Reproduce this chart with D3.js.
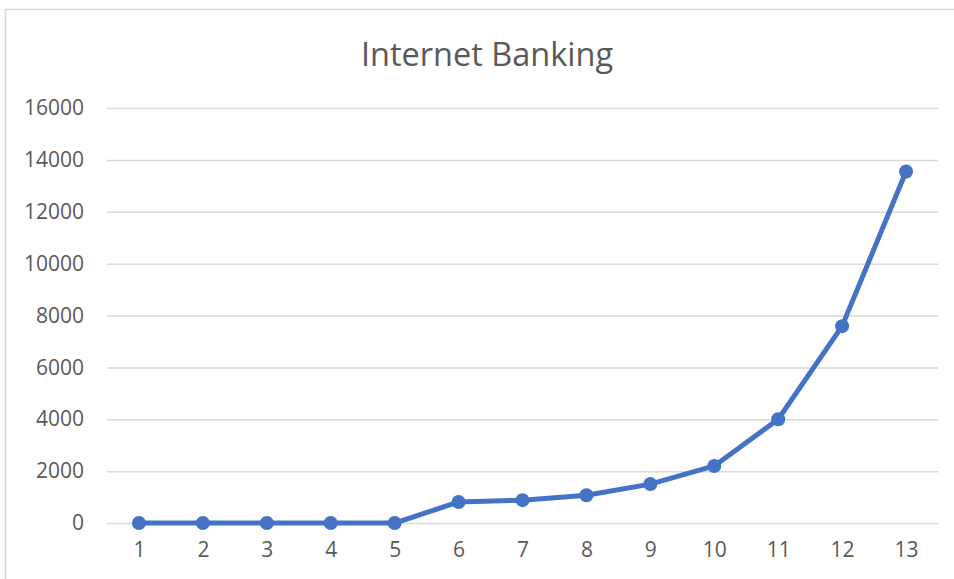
<!DOCTYPE html>
<html>
<head>
<meta charset="utf-8">
<script src="https://cdn.jsdelivr.net/npm/d3@7"></script>
<style>
  html, body { margin: 0; padding: 0; background: #fff; }
  svg { display: block; }
</style>
</head>
<body>
<svg id="chart" width="954" height="579"></svg>
<script>
// Series data
const periods = [1, 2, 3, 4, 5, 6, 7, 8, 9, 10, 11, 12, 13];
const users = [0, 0, 0, 0, 0, 810, 880, 1070, 1500, 2200, 4000, 7590, 13550];
const yTicks = [0, 2000, 4000, 6000, 8000, 10000, 12000, 14000, 16000];
const chartTitle = "Internet Banking";

const svg = d3.select("#chart");
const W = 954, H = 579;
const plot = { left: 107, right: 938, top: 108, bottom: 523 };
const font = "'Open Sans', sans-serif";
const textColor = "#595959";
const gridColor = "#d9d9d9";
const lineColor = "#4472C4";

// Chart area frame (left and top edges visible)
svg.append("rect")
  .attr("x", 5.5).attr("y", 9.5)
  .attr("width", W + 20).attr("height", H + 20)
  .attr("fill", "#fff")
  .attr("stroke", gridColor).attr("stroke-width", 1.5);

const x = d3.scalePoint()
  .domain(periods)
  .range([plot.left, plot.right])
  .padding(0.5);

const y = d3.scaleLinear()
  .domain([0, 16000])
  .range([plot.bottom, plot.top]);

// Title
svg.append("text")
  .attr("x", 487).attr("y", 66)
  .attr("text-anchor", "middle")
  .attr("font-family", font)
  .attr("font-size", 32.5)
  .attr("fill", textColor)
  .text(chartTitle);

// Horizontal gridlines + y labels
const yAxis = d3.axisLeft(y)
  .tickValues(yTicks)
  .tickSize(-(plot.right - plot.left))
  .tickPadding(23)
  .tickFormat(d3.format("d"));

const gy = svg.append("g")
  .attr("transform", `translate(${plot.left},0)`)
  .call(yAxis);
gy.select(".domain").remove();
gy.selectAll(".tick line")
  .attr("stroke", gridColor).attr("stroke-width", 1.5);
gy.selectAll(".tick text")
  .attr("font-family", font)
  .attr("font-size", 21)
  .attr("fill", textColor);

// Category labels along the bottom
const xAxis = d3.axisBottom(x).tickSize(0).tickPadding(19);
const gx = svg.append("g")
  .attr("transform", `translate(0,${plot.bottom})`)
  .call(xAxis);
gx.select(".domain").remove();
gx.selectAll(".tick text")
  .attr("font-family", font)
  .attr("font-size", 21)
  .attr("fill", textColor);

// Series line
const line = d3.line()
  .x((d, i) => x(periods[i]))
  .y(d => y(d));

svg.append("path")
  .datum(users)
  .attr("d", line)
  .attr("fill", "none")
  .attr("stroke", lineColor)
  .attr("stroke-width", 5)
  .attr("stroke-linejoin", "round");

// Markers
svg.append("g")
  .selectAll("circle")
  .data(users)
  .join("circle")
  .attr("cx", (d, i) => x(periods[i]))
  .attr("cy", d => y(d))
  .attr("r", 7)
  .attr("fill", lineColor);
</script>
</body>
</html>
